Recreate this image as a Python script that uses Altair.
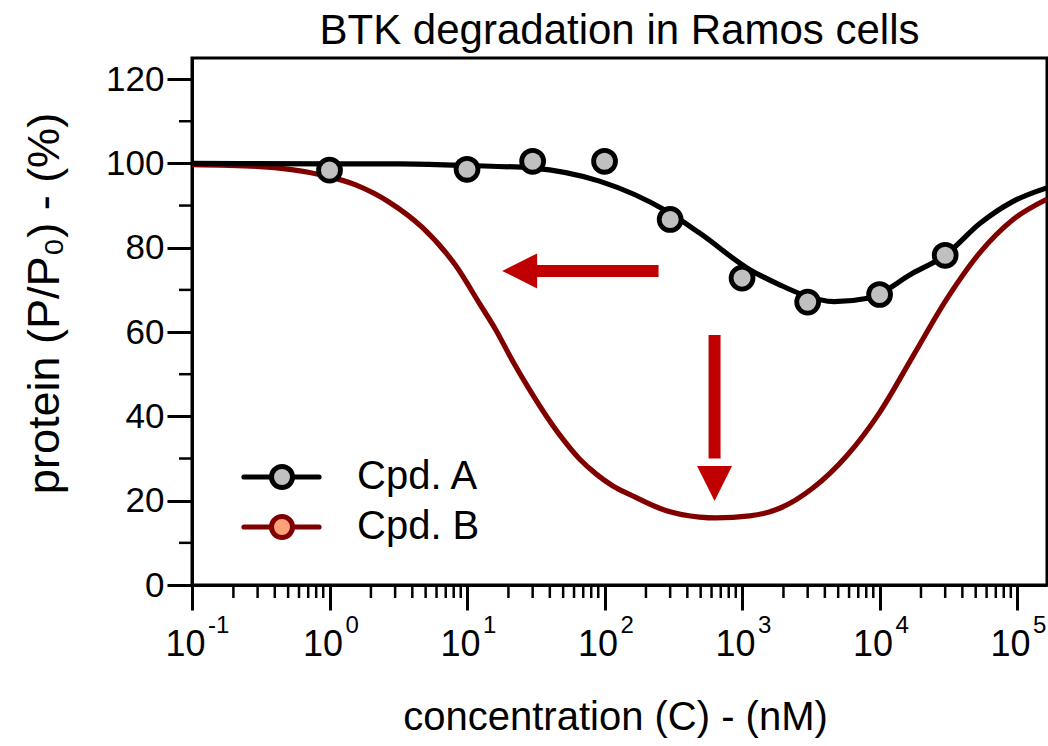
import altair as alt
import pandas as pd

FONT = "Liberation Sans"

# ---- data ----
pts_A_conc = [1, 10, 30, 100, 300, 1000, 3000, 10000, 30000]
pts_A_prot = [98.4, 98.6, 100.5, 100.5, 86.7, 72.8, 67.1, 68.9, 78.2]

curve_A_conc = [0.1, 1, 3.24, 10, 29.9, 91.8, 282, 490, 1138, 1879, 2692,
                4677, 8222, 17500, 30000, 53830, 93540, 164400]
curve_A_prot = [100, 99.9, 99.9, 99.5, 98.9, 95.8, 88.7, 83.5, 74.8, 71.2,
                69.0, 67.2, 68.0, 74.0, 78.2, 85.8, 91.0, 94.2]

curve_B_conc = [0.1, 0.295, 0.89, 1.55, 2.72, 4.73, 8.3, 12.3, 16.2, 21.4, 28.4,
                37.7, 49.8, 65.8, 87.1, 115, 152, 282, 490, 646, 1138, 1879,
                3273, 5754, 10000, 17500, 30760, 53830, 93540, 164400]
curve_B_prot = [99.7, 99.3, 97.2, 94.9, 90.8, 84.8, 75.7, 66.8, 60.5, 53.2, 46.4,
                40.1, 34.6, 29.9, 26.3, 23.5, 21.5, 17.6, 16.1, 15.9, 16.4, 18.2,
                23.0, 30.6, 40.9, 54.3, 67.8, 78.9, 86.7, 91.5]

# arrows (annotation), in data units
arrow_h = {"x": 247, "x2": 30, "y": 74.5, "tip_x": 18}
arrow_v = {"x": 631, "y": 59.3, "y2": 30, "tip_y": 19.9}

x_major = [0.1, 1, 10, 100, 1000, 10000, 100000]
x_exponents = ["-1", "0", "1", "2", "3", "4", "5"]
x_minor = [m * 10.0 ** d for d in range(-1, 5) for m in range(2, 10)]
y_major = [0, 20, 40, 60, 80, 100, 120]
y_minor = [10, 30, 50, 70, 90, 110]

legend_labels = ["Cpd. A", "Cpd. B"]
legend_stroke = ["#000000", "#800000"]
legend_fill = ["#c0c0c0", "#ffa07a"]
legend_ypix = [419, 469]

W, H = 855, 527
xs = alt.Scale(type="log", domain=[0.1, 165000], nice=False)
ys = alt.Scale(domain=[0, 125], nice=False, zero=False)

xa = alt.Axis(values=x_major, labelExpr="'10'", title="concentration (C) - (nM)",
              tickSize=25, tickWidth=3, domainWidth=3, grid=False,
              labelFontSize=36, labelAlign="right", labelOffset=13,
              labelBaseline="alphabetic", labelPadding=45, labelFont=FONT,
              titleFont=FONT, titleFontSize=40, titleFontWeight="normal",
              titleX=423, titleY=132, titleBaseline="middle", titleAlign="center",
              labelColor="black", titleColor="black", tickColor="black",
              domainColor="black", labelFlush=False, labelOverlap=False)
ya = alt.Axis(values=y_major, title="protein (P/P\u2080) - (%)",
              tickSize=25, tickWidth=3, domainWidth=3, grid=False,
              labelFontSize=35, labelPadding=3, labelFont=FONT, labelBaseline="middle",
              titleFont=FONT, titleFontSize=45, titleFontWeight="normal",
              titleAngle=270, titleX=-148, titleY=245, titleBaseline="middle",
              titleAlign="center", labelColor="black", titleColor="black",
              tickColor="black", domainColor="black", labelFlush=False, labelOverlap=False)

dfA = pd.DataFrame({"c": curve_A_conc, "p": curve_A_prot})
dfB = pd.DataFrame({"c": curve_B_conc, "p": curve_B_prot})
dfP = pd.DataFrame({"c": pts_A_conc, "p": pts_A_prot})

X = lambda f: alt.X(f, type="quantitative", scale=xs, axis=xa)
Y = lambda f: alt.Y(f, type="quantitative", scale=ys, axis=ya)

lineB = alt.Chart(dfB).mark_line(color="#800000", strokeWidth=5.2, interpolate="monotone", clip=True).encode(
    x=X("c"), y=Y("p"))
lineA = alt.Chart(dfA).mark_line(color="#000000", strokeWidth=5.2, interpolate="monotone", clip=True).encode(
    x=X("c"), y=Y("p"))
pointsA = alt.Chart(dfP).mark_point(shape="circle", size=480, filled=False, fill="#c0c0c0",
                                    fillOpacity=1, stroke="#000000", strokeWidth=4.8, opacity=1).encode(
    x=X("c"), y=Y("p"))

RED = "#c00000"
h_shaft = alt.Chart(pd.DataFrame([arrow_h])).mark_rule(color=RED, strokeWidth=12, strokeCap="butt").encode(
    x=X("x"), x2="x2:Q", y=Y("y"))
h_head = alt.Chart(pd.DataFrame([arrow_h])).mark_point(shape="M0,0L2,-1L2,1Z", size=1225, filled=True,
                                                       color=RED, opacity=1, strokeWidth=0).encode(
    x=X("tip_x"), y=Y("y"))
v_shaft = alt.Chart(pd.DataFrame([arrow_v])).mark_rule(color=RED, strokeWidth=12, strokeCap="butt").encode(
    x=X("x"), y=Y("y"), y2="y2:Q")
v_head = alt.Chart(pd.DataFrame([arrow_v])).mark_point(shape="M0,0L-1,-2L1,-2Z", size=1225, filled=True,
                                                       color=RED, opacity=1, strokeWidth=0).encode(
    x=X("x"), y=Y("tip_y"))

# minor ticks
xminor = alt.Chart(pd.DataFrame({"v": x_minor})).mark_rule(color="black", strokeWidth=2.5).encode(
    x=X("v"), y=alt.value(H), y2=alt.value(H + 13))
yminor = alt.Chart(pd.DataFrame({"v": y_minor})).mark_rule(color="black", strokeWidth=2.5).encode(
    y=Y("v"), x=alt.value(0), x2=alt.value(-13))

# exponents of the x tick labels
exps = alt.Chart(pd.DataFrame({"v": x_major, "e": x_exponents})).mark_text(
    font=FONT, fontSize=24, align="left", baseline="alphabetic", dx=16, color="black").encode(
    x=X("v"), y=alt.value(H + 48), text="e:N")

# legend (drawn by hand, one entry per layer set)
legend_layers = []
for lab, stc, flc, yp in zip(legend_labels, legend_stroke, legend_fill, legend_ypix):
    d = pd.DataFrame({"label": [lab]})
    legend_layers.append(alt.Chart(d).mark_rule(strokeWidth=5.2, strokeCap="round", color=stc).encode(
        x=alt.value(52), x2=alt.value(127), y=alt.value(yp)))
    legend_layers.append(alt.Chart(d).mark_point(shape="circle", size=440, fill=flc, fillOpacity=1,
                                                 stroke=stc, strokeWidth=5, opacity=1).encode(
        x=alt.value(90), y=alt.value(yp)))
    legend_layers.append(alt.Chart(d).mark_text(font=FONT, fontSize=40, align="left", baseline="middle",
                                                color="black").encode(
        x=alt.value(165), y=alt.value(yp), text="label:N"))

chart = alt.layer(
    lineB, lineA, pointsA, h_shaft, h_head, v_shaft, v_head, xminor, yminor, exps,
    *legend_layers
).properties(
    width=W, height=H,
    title=alt.TitleParams("BTK degradation in Ramos cells", font=FONT, fontSize=42,
                          fontWeight="normal", color="black", anchor="middle", offset=5),
    autosize=alt.AutoSizeParams(type="none"),
    padding={"left": 192, "top": 58, "right": 1, "bottom": 161},
    background="white",
).configure_view(stroke="black", strokeWidth=3)

chart.save("out.html", embed_options={"renderer": "svg", "actions": False})
